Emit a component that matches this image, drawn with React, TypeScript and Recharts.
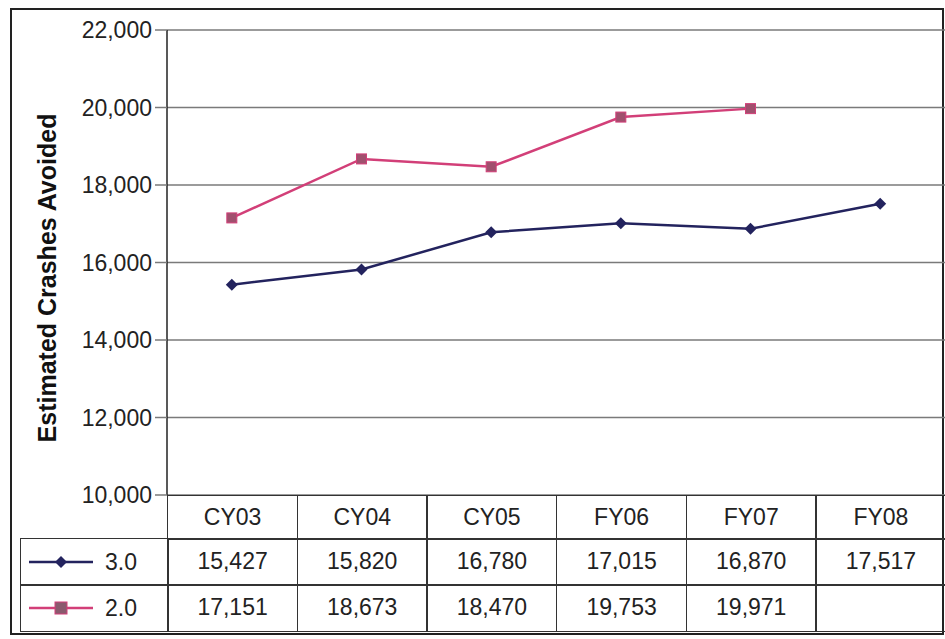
import { LineChart, Line, XAxis, YAxis, CartesianGrid, Label } from "recharts";

const categories = ["CY03", "CY04", "CY05", "FY06", "FY07", "FY08"];
const v30 = [15427, 15820, 16780, 17015, 16870, 17517];
const v20: (number | null)[] = [17151, 18673, 18470, 19753, 19971, null];
const yTicks = [10000, 12000, 14000, 16000, 18000, 20000, 22000];

const data = categories.map((c, i) => ({ cat: c, s30: v30[i], s20: v20[i] }));

const NAVY = "#23235e";
const PINK = "#d23f78";
const FONT = "'Liberation Sans', Arial, sans-serif";

const fmt = (v: number | null) => (v == null ? "" : v.toLocaleString("en-US"));

const PLOT_LEFT = 167;
const PLOT_RIGHT = 945;
const COL_W = (PLOT_RIGHT - PLOT_LEFT) / categories.length;
const ROW_TOP = [495, 538, 584];
const ROW_H = [43, 46, 46];

const cell = (left: number, top: number, w: number, h: number): React.CSSProperties => ({
  position: "absolute",
  left,
  top,
  width: w,
  height: h,
  boxSizing: "border-box",
  border: "1.5px solid #333",
  display: "flex",
  alignItems: "center",
  justifyContent: "center",
  fontSize: 23,
  color: "#222",
});

function LegendKey({ color, square, label }: { color: string; square: boolean; label: string }) {
  return (
    <svg width={146} height={44}>
      <line x1={8} x2={72} y1={22} y2={22} stroke={color} strokeWidth={2.5} />
      {square ? (
        <rect x={34} y={16} width={12} height={12} fill="#8a5a6e" stroke={color} />
      ) : (
        <polygon points="40,16 46,22 40,28 34,22" fill={NAVY} />
      )}
      <text x={84} y={30} fontSize={23} fill="#222" fontFamily={FONT}>
        {label}
      </text>
    </svg>
  );
}

export default function App() {
  return (
    <div style={{ position: "absolute", left: 0, top: 0, width: 945, height: 639, background: "#fff", fontFamily: FONT }}>
      <div style={{ position: "absolute", left: 10, top: 8, width: 934, height: 627, border: "2px solid #222", boxSizing: "border-box" }} />
      <div style={{ position: "absolute", left: 0, top: 0 }}>
        <LineChart width={945} height={639} data={data} margin={{ top: 30, right: 0, bottom: 144, left: 67 }}>
          <CartesianGrid horizontal vertical={false} stroke="#7a7a7a" strokeWidth={1.5} />
          <XAxis dataKey="cat" hide padding={{ left: COL_W / 2, right: COL_W / 2 }} />
          <YAxis
            width={100}
            domain={[10000, 22000]}
            ticks={yTicks}
            tickFormatter={(v: number) => v.toLocaleString("en-US")}
            axisLine={{ stroke: "#222", strokeWidth: 1.5 }}
            tickLine={{ stroke: "#7a7a7a", strokeWidth: 1.5 }}
            tickSize={12}
            tickMargin={3}
            tick={{ fill: "#222", fontSize: 23, fontFamily: FONT }}
          >
            <Label
              content={() => (
                <text
                  transform="translate(56,278) rotate(-90)"
                  textAnchor="middle"
                  fontSize={25}
                  fontWeight="bold"
                  fill="#111"
                  fontFamily={FONT}
                >
                  Estimated Crashes Avoided
                </text>
              )}
            />
          </YAxis>
          <Line
            dataKey="s30"
            stroke={NAVY}
            strokeWidth={2.5}
            isAnimationActive={false}
            dot={(p: any) => (
              <polygon
                key={`d30-${p.index}`}
                points={`${p.cx},${p.cy - 6} ${p.cx + 6},${p.cy} ${p.cx},${p.cy + 6} ${p.cx - 6},${p.cy}`}
                fill={NAVY}
              />
            )}
          />
          <Line
            dataKey="s20"
            stroke={PINK}
            strokeWidth={2.5}
            isAnimationActive={false}
            connectNulls={false}
            dot={(p: any) =>
              p.value == null ? (
                <g key={`d20-${p.index}`} />
              ) : (
                <rect key={`d20-${p.index}`} x={p.cx - 5} y={p.cy - 5} width={10} height={10} fill="#a0506e" stroke={PINK} strokeWidth={1} />
              )
            }
          />
        </LineChart>
      </div>
      {categories.map((c, i) => (
        <div key={`h-${c}`} style={cell(PLOT_LEFT + i * COL_W, ROW_TOP[0], COL_W + 1.5, ROW_H[0] + 1.5)}>
          {c}
        </div>
      ))}
      <div style={cell(20, ROW_TOP[1], PLOT_LEFT - 20 + 1.5, ROW_H[1] + 1.5)}>
        <LegendKey color={NAVY} square={false} label="3.0" />
      </div>
      <div style={cell(20, ROW_TOP[2], PLOT_LEFT - 20 + 1.5, ROW_H[2] + 1.5)}>
        <LegendKey color={PINK} square label="2.0" />
      </div>
      {v30.map((v, i) => (
        <div key={`r30-${i}`} style={cell(PLOT_LEFT + i * COL_W, ROW_TOP[1], COL_W + 1.5, ROW_H[1] + 1.5)}>
          {fmt(v)}
        </div>
      ))}
      {v20.map((v, i) => (
        <div key={`r20-${i}`} style={cell(PLOT_LEFT + i * COL_W, ROW_TOP[2], COL_W + 1.5, ROW_H[2] + 1.5)}>
          {fmt(v)}
        </div>
      ))}
    </div>
  );
}
